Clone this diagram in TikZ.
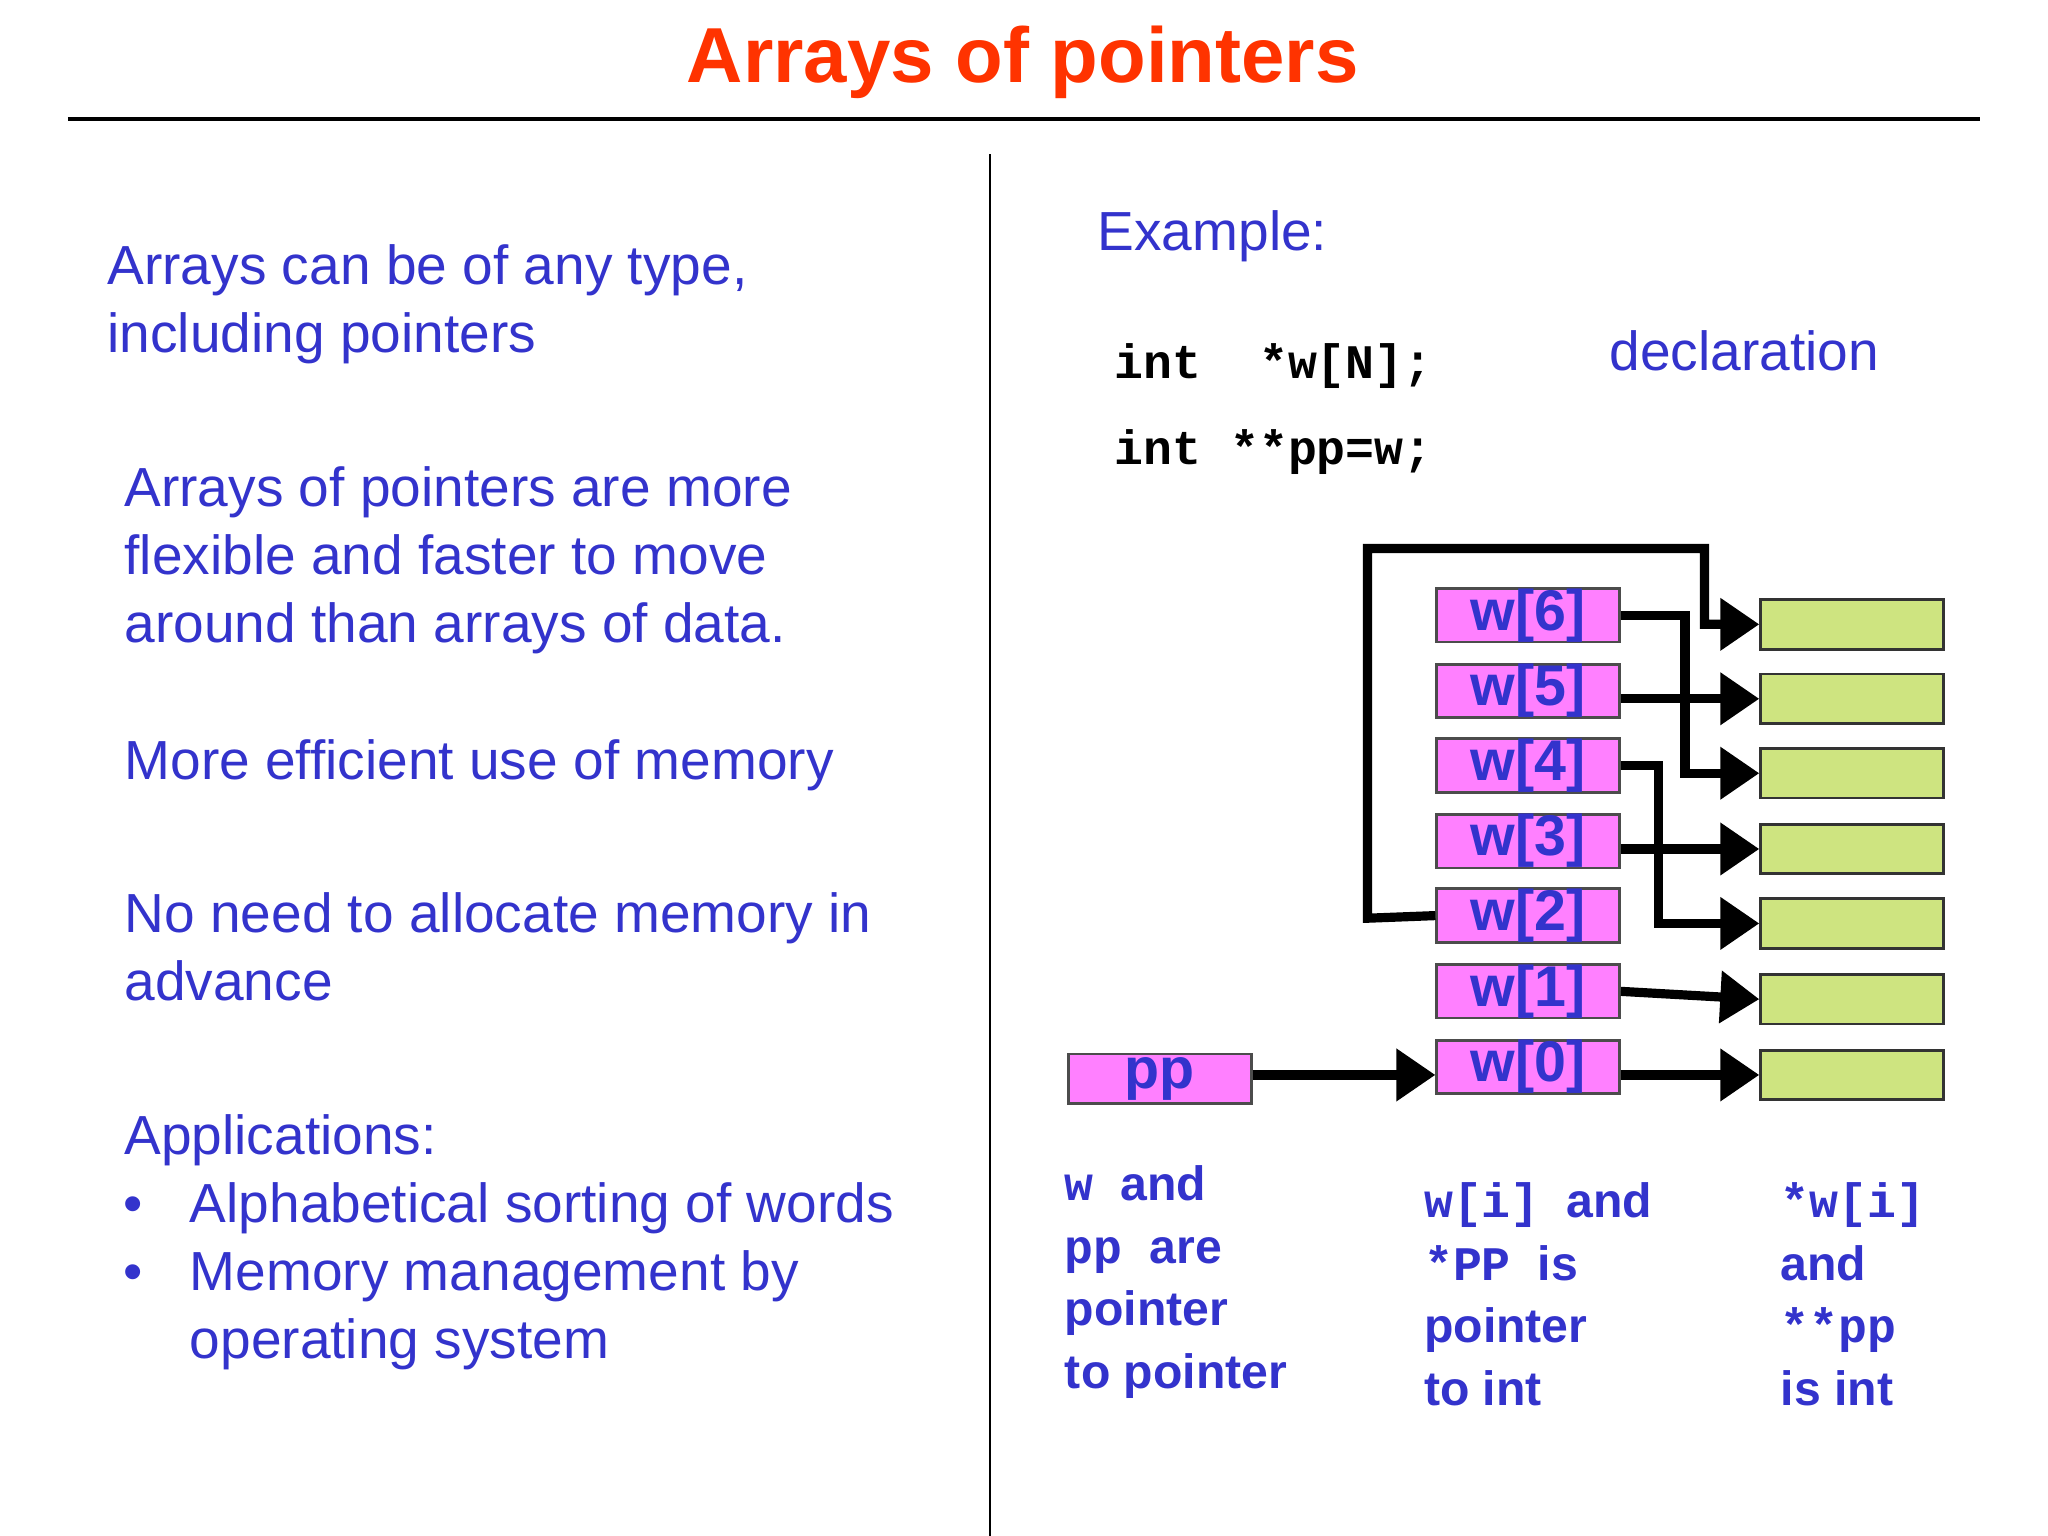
\documentclass[tikz,border=0pt]{standalone}
\usepackage{fontspec}
\setmainfont{Liberation Sans}
\setmonofont{Liberation Mono}
\usetikzlibrary{arrows.meta}
\definecolor{tblue}{RGB}{51,51,204}
\definecolor{tred}{RGB}{255,51,0}
\definecolor{pinkf}{RGB}{255,128,255}
\definecolor{greenf}{RGB}{206,228,128}
\begin{document}
\begin{tikzpicture}[x=0.02cm,y=-0.02cm,
  txt/.style={anchor=base west,inner sep=0,text=tblue,font=\fontsize{24}{29.5}\selectfont},
  btxt/.style={anchor=base west,inner sep=0,text=tblue,font=\fontsize{21}{27}\selectfont\bfseries},
  code/.style={anchor=base west,inner sep=0,font=\fontsize{21}{27}\selectfont\ttfamily\bfseries},
  wbox/.style={draw=black!70,line width=1.2pt,fill=pinkf,minimum width=2.8cm,minimum height=0.76cm,inner sep=0,text=tblue,font=\fontsize{25}{25}\selectfont\bfseries},
  gbox/.style={draw=black!80,line width=1.2pt,fill=greenf,minimum width=2.8cm,minimum height=0.76cm,inner sep=0},
  arr/.style={line width=4pt,-{Triangle[length=17pt,width=22pt]}}]
\useasboundingbox (0,0) rectangle (1568,1176);
\node[anchor=center,text=tred,font=\fontsize{34}{34}\selectfont\bfseries] (title) at (783,48) {Arrays of pointers};
\draw[line width=1.8pt] (52,91) coordinate (r1) -- (1516,91) coordinate (r2);
\draw[line width=0.8pt] (758,118) coordinate (v1) -- (758,1176) coordinate (v2);
% left text
\node[txt] (t1) at (82,218) {Arrays can be of any type,};
\node[txt] (t2) at (82,270) {including pointers};
\node[txt] (t3) at (95,388) {Arrays of pointers are more};
\node[txt] (t4) at (95,440) {flexible and faster to move};
\node[txt] (t5) at (95,492) {around than arrays of data.};
\node[txt] (t6) at (95,597) {More efficient use of memory};
\node[txt] (t7) at (95,714) {No need to allocate memory in};
\node[txt] (t8) at (95,766) {advance};
\node[txt] (t9) at (95,884) {Applications:};
\node[txt] (b1) at (94,936) {•};
\node[txt] (t10) at (145,936) {Alphabetical sorting of words};
\node[txt] (b2) at (94,988) {•};
\node[txt] (t11) at (145,988) {Memory management by};
\node[txt] (t12) at (145,1040) {operating system};
% right
\node[txt] (ex) at (840,192) {Example:};
\node[code] (c1) at (853,290) {int\ \ *w[N];};
\node[txt] (decl) at (1232,284) {declaration};
\node[code] (c2) at (853,356) {int **pp=w;};
% boxes
\foreach \i/\y in {6/471,5/529,4/586,3/644,2/701,1/759,0/817}{
  \node[wbox] (w\i) at (1170,\y) {w[\i]};
}
\foreach \i/\y in {6/478,5/535,4/592,3/650,2/707,1/765,0/823}{
  \node[gbox] (g\i) at (1418,\y) {};
}
\node[wbox] (pp) at (888,826) {pp};
% arrows
\draw[arr] (pp.east|-w0) ++(0,6) -- (w0.west|-g0);
\draw[arr] (w0.east|-g0) -- (g0.west);
\draw[arr] (w1.east) -- (g1.west);
\draw[arr] (w3.east|-g3) -- (g3.west);
\draw[arr] (w5.east|-g5) -- (g5.west);
\draw[arr,rounded corners=0] (w6.east) -- (1290,471) -- (1290,592) -- (g4.west);
\draw[arr] (w4.east) -- (1270,586) -- (1270,707) -- (g2.west);
\draw[arr] (w2.west) -- (1047,703) -- (1047,420) -- (1305,420) -- (1305,478) -- (g6.west);
% bottom text
\node[btxt] (a1) at (815,919) {\texttt{w}\ \ and};
\node[btxt] (a2) at (815,967) {\texttt{pp}\ \ are};
\node[btxt] (a3) at (815,1015) {pointer};
\node[btxt] (a4) at (815,1063) {to pointer};
\node[btxt] (b1x) at (1090,932) {\texttt{w[i]}\ \ and};
\node[btxt] (b2x) at (1090,980) {\texttt{*PP}\ \ is};
\node[btxt] (b3x) at (1090,1028) {pointer};
\node[btxt] (b4x) at (1090,1076) {to int};
\node[btxt] (c1x) at (1363,932) {\texttt{*w[i]}};
\node[btxt] (c2x) at (1363,980) {and};
\node[btxt] (c3x) at (1363,1028) {\texttt{**pp}};
\node[btxt] (c4x) at (1363,1076) {is int};
\end{tikzpicture}
\end{document}
